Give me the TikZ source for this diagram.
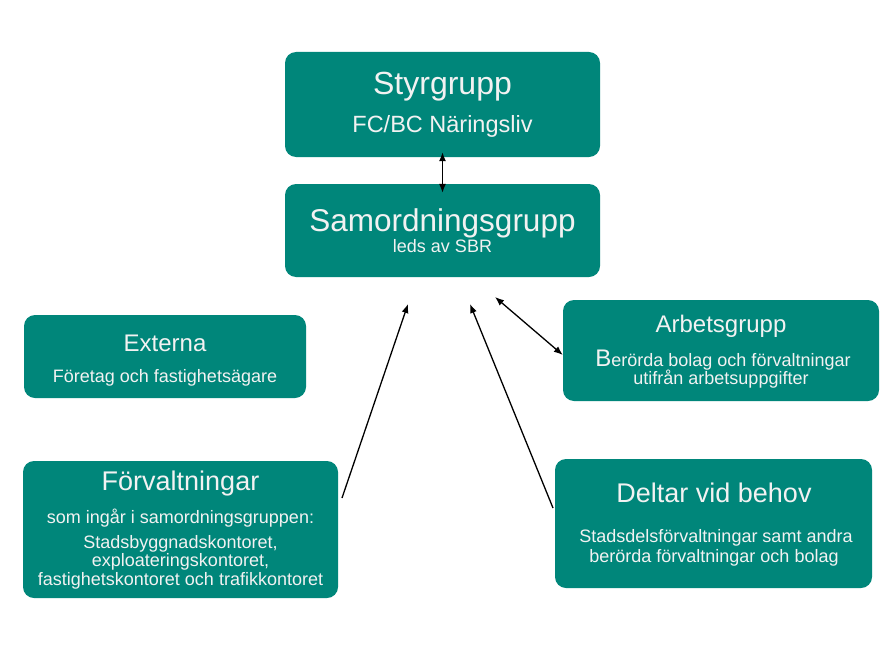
\documentclass[tikz,border=0pt]{standalone}
\usepackage{fontspec}
\setmainfont{Liberation Sans}
\usetikzlibrary{arrows.meta}
\definecolor{teal1}{RGB}{0,134,122}
\definecolor{txt}{RGB}{242,242,242}
\newcommand{\fs}[1]{\fontsize{#1}{#1}\selectfont}
\begin{document}
\begin{tikzpicture}[x=1pt,y=-1pt,
  box/.style={fill=teal1, rounded corners=11pt, inner sep=0pt, draw=none},
  tx/.style={text=txt, anchor=base, inner sep=0pt},
  arr/.style={line width=1.3pt, -{Latex[length=9pt,width=7pt]}},
  darr/.style={line width=1.3pt, {Latex[length=9pt,width=7pt]}-{Latex[length=9pt,width=7pt]}}]
\useasboundingbox[fill=white] (0,0) rectangle (882,650);

% boxes
\node[box, minimum width=315pt, minimum height=105pt] (styr) at (442.5,104.5) {};
\node[box, minimum width=315pt, minimum height=93pt] (samord) at (442.5,230.5) {};
\node[box, minimum width=282pt, minimum height=83pt] (ext) at (165,356.5) {};
\node[box, minimum width=316pt, minimum height=101pt] (arb) at (721,350.5) {};
\node[box, minimum width=315pt, minimum height=137pt] (forv) at (180.5,529.5) {};
\node[box, minimum width=317pt, minimum height=129pt] (delt) at (713.5,523.5) {};

% texts
\node[tx] (t1) at (442.5,95) {\fs{32}Styrgrupp};
\node[tx] (t2) at (442.5,132) {\fs{23.5}FC/BC Näringsliv};
\node[tx] (t3) at (442.5,231) {\fs{31.5}Samordningsgrupp};
\node[tx] (t4) at (442.5,252) {\fs{18}leds av SBR};
\node[tx] (t5) at (165,351) {\fs{24}Externa};
\node[tx] (t6) at (165,382) {\fs{18}Företag och fastighetsägare};
\node[tx] (t7) at (721,332) {\fs{24}Arbetsgrupp};
\node[tx] (t8) at (723,366) {\fs{18}{\fs{24}B}erörda bolag och förvaltningar};
\node[tx] (t9) at (721,384) {\fs{18}utifrån arbetsuppgifter};
\node[tx] (t10) at (180.5,490) {\fs{27}Förvaltningar};
\node[tx] (t11) at (180.5,523) {\fs{18}som ingår i samordningsgruppen:};
\node[tx] (t12) at (180.5,548) {\fs{18}Stadsbyggnadskontoret,};
\node[tx] (t13) at (180.5,566.5) {\fs{18}exploateringskontoret,};
\node[tx] (t14) at (180.5,585) {\fs{18}fastighetskontoret och trafikkontoret};
\node[tx] (t15) at (714,502) {\fs{27}Deltar vid behov};
\node[tx] (t16) at (716,542) {\fs{18}Stadsdelsförvaltningar samt andra};
\node[tx] (t17) at (714,562) {\fs{18}berörda förvaltningar och bolag};

% free ends of connectors
\coordinate (fstart) at (342,498);
\coordinate (fend) at (408,304);
\coordinate (dstart) at (553,508);
\coordinate (dend) at (470,304);
\coordinate (aend) at (495,297);

% connectors
\draw[darr] ([yshift=5pt]styr.south) -- ([yshift=-9pt]samord.north);
\draw[arr] (fstart) -- (fend);
\draw[arr] (dstart) -- (dend);
\draw[darr] (aend) -- ([yshift=-4.5pt]arb.west);
\end{tikzpicture}
\end{document}
